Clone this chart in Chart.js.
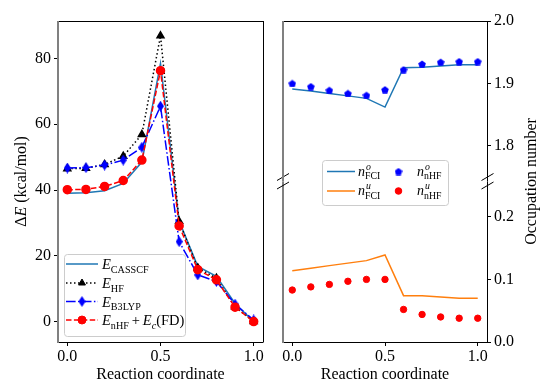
<!DOCTYPE html>
<html>
<head>
<meta charset="utf-8">
<script src="https://cdn.jsdelivr.net/npm/chart.js@4/dist/chart.umd.min.js"></script>
<style>
  html, body { margin: 0; padding: 0; background: #fff; }
  #wrap { position: relative; width: 541px; height: 382px; }
  canvas { position: absolute; top: 0; }
</style>
</head>
<body>
<div id="wrap">
  <canvas id="left" width="270" height="382" style="left:0"></canvas>
  <canvas id="rbot" width="271" height="382" style="left:270px"></canvas>
  <canvas id="rtop" width="271" height="382" style="left:270px"></canvas>
</div>
<script>
// reaction coordinate
const xs = [0, 0.1, 0.2, 0.3, 0.4, 0.5, 0.6, 0.7, 0.8, 0.9, 1.0];

// left panel: energies in kcal/mol
const eCasscf = [39.0, 39.2, 39.8, 42.0, 48.5, 78.5, 30.6, 16.8, 13.8, 5.5, 0.0];
const eHf     = [46.5, 46.6, 47.8, 50.3, 56.9, 86.9, 30.5, 16.3, 13.2, 4.5, 0.0];
const eB3lyp  = [46.7, 46.8, 47.6, 49.1, 53.0, 65.5, 24.3, 14.2, 12.2, 5.3, 0.5];
const eNhf    = [40.1, 40.2, 41.1, 42.9, 49.1, 76.3, 29.1, 15.8, 12.7, 4.4, 0.0];

// right panel: occupation numbers
const noFci = [1.891, 1.888, 1.884, 1.880, 1.876, 1.862, 1.925, 1.926, 1.928, 1.930, 1.930];
const noNhf = [1.900, 1.895, 1.889, 1.884, 1.881, 1.890, 1.922, 1.931, 1.934, 1.935, 1.935];
const nuFci = [0.114, 0.118, 0.122, 0.126, 0.130, 0.139, 0.074, 0.074, 0.072, 0.070, 0.070];
const nuNhf = [0.083, 0.088, 0.092, 0.097, 0.100, 0.100, 0.052, 0.044, 0.040, 0.038, 0.038];

const xTicks = [0, 0.5, 1.0];
const eTicks = [0, 20, 40, 60, 80];
const occTopTicks = [1.8, 1.9, 2.0];
const occBotTicks = [0, 0.1, 0.2];

const SERIF = '"Liberation Serif", "DejaVu Serif", serif';
const BLUE = '#1f77b4', ORANGE = '#ff7f0e';

function fnt(px, it) { return (it ? 'italic ' : '') + px + 'px ' + SERIF; }
function pts(arr) { return xs.map((x, i) => ({ x: x, y: arr[i] })); }

// small marker images that Chart.js has no built-in style for
function thinDiamond(w, h, color) {
  const c = document.createElement('canvas');
  c.width = w; c.height = h;
  const g = c.getContext('2d');
  g.fillStyle = color;
  g.beginPath();
  g.moveTo(w / 2, 0); g.lineTo(w, h / 2); g.lineTo(w / 2, h); g.lineTo(0, h / 2);
  g.closePath(); g.fill();
  return c;
}
function pentagon(s, color) {
  const c = document.createElement('canvas');
  c.width = s; c.height = s;
  const g = c.getContext('2d');
  g.fillStyle = color;
  g.beginPath();
  for (let k = 0; k < 5; k++) {
    const a = -Math.PI / 2 + k * 2 * Math.PI / 5;
    const px = s / 2 + Math.cos(a) * s / 2, py = s / 2 + 0.5 + Math.sin(a) * s / 2;
    k ? g.lineTo(px, py) : g.moveTo(px, py);
  }
  g.closePath(); g.fill();
  return c;
}
const diamondImg = thinDiamond(7, 11, '#0000ff');
const pentImg = pentagon(8, '#0000ff');

// text with italic / sub / sup runs, returns width
function rich(ctx, runs, x, y, px, measureOnly) {
  let cx = x;
  for (const r of runs) {
    if (r.stack) {
      ctx.font = fnt(px * 0.7, true);
      const w1 = ctx.measureText(r.stack[0]).width;
      ctx.font = fnt(px * 0.7, false);
      const w2 = ctx.measureText(r.stack[1]).width;
      if (!measureOnly) {
        ctx.font = fnt(px * 0.7, true);
        ctx.fillText(r.stack[0], cx + 1, y - px * 0.4);
        ctx.font = fnt(px * 0.7, false);
        ctx.fillText(r.stack[1], cx, y + px * 0.25);
      }
      cx += Math.max(w1, w2);
      continue;
    }
    const small = r.pos === 'sub' || r.pos === 'sup';
    ctx.font = fnt(small ? px * 0.7 : px, r.it);
    const dy = r.pos === 'sub' ? px * 0.25 : r.pos === 'sup' ? -px * 0.4 : 0;
    if (!measureOnly) ctx.fillText(r.t, cx, y + dy);
    cx += ctx.measureText(r.t).width;
  }
  return cx - x;
}

// matplotlib-like spines, drawn over the data
function framePlugin(sides) {
  return {
    id: 'frame',
    afterDatasetsDraw(chart) {
      const a = chart.chartArea, ctx = chart.ctx;
      const top = sides.top !== undefined ? sides.top : a.top;
      const bot = sides.bottom !== undefined ? sides.bottom : a.bottom;
      ctx.save();
      ctx.lineWidth = 1;
      ctx.strokeStyle = '#000';
      ctx.beginPath();
      if (sides.drawTop) { ctx.moveTo(a.left, a.top + 0.5); ctx.lineTo(a.right, a.top + 0.5); }
      if (sides.drawBottom) { ctx.moveTo(a.left, a.bottom + 0.5); ctx.lineTo(a.right + 0.5, a.bottom + 0.5); }
      ctx.moveTo(a.right + 0.5, top); ctx.lineTo(a.right + 0.5, bot);
      ctx.stroke();
      ctx.strokeStyle = '#808080';
      ctx.lineWidth = 2;
      ctx.beginPath();
      ctx.moveTo(a.left, top); ctx.lineTo(a.left, bot + (sides.drawBottom ? 1 : 0));
      ctx.stroke();
      if (sides.breaks) {
        ctx.strokeStyle = '#000';
        ctx.lineWidth = 1;
        ctx.beginPath();
        for (const bx of [a.left, a.right + 0.5]) {
          for (const by of sides.breaks) {
            ctx.moveTo(bx - 6, by + 3.5); ctx.lineTo(bx + 6, by - 3.5);
          }
        }
        ctx.stroke();
      }
      ctx.restore();
    }
  };
}

function legendBox(ctx, x, y, w, h) {
  ctx.save();
  ctx.fillStyle = 'rgba(255,255,255,0.8)';
  ctx.strokeStyle = '#cccccc';
  ctx.lineWidth = 1;
  ctx.beginPath();
  ctx.roundRect(x + 0.5, y + 0.5, w, h, 3);
  ctx.fill(); ctx.stroke();
  ctx.restore();
}

function sampleLine(ctx, x0, x1, y, color, dash) {
  ctx.save();
  ctx.strokeStyle = color;
  ctx.lineWidth = 1.5;
  ctx.setLineDash(dash);
  ctx.beginPath(); ctx.moveTo(x0, y); ctx.lineTo(x1, y); ctx.stroke();
  ctx.restore();
}

function marker(ctx, style, r, color, x, y) {
  ctx.save();
  ctx.fillStyle = color; ctx.strokeStyle = color;
  Chart.helpers.drawPoint(ctx, { pointStyle: style, radius: r, rotation: 0, borderWidth: 1 }, x, y);
  ctx.restore();
}

const DOT = [1.5, 2.5], DASH = [5.5, 2.4], DASHDOT = [9.6, 2.4, 1.5, 2.4];

const leftDeco = {
  id: 'leftDeco',
  afterDraw(chart) {
    const ctx = chart.ctx, a = chart.chartArea;
    ctx.save();
    ctx.fillStyle = '#000';
    ctx.textBaseline = 'alphabetic';
    // legend
    legendBox(ctx, 64, 254, 121, 82);
    const rows = [264, 283, 301.5, 320];
    const px = 14.5;
    sampleLine(ctx, 66, 98, rows[0], BLUE, []);
    sampleLine(ctx, 66, 98, rows[1], '#000', DOT);
    marker(ctx, 'triangle', 4, '#000', 82, rows[1]);
    sampleLine(ctx, 66, 98, rows[2], '#0000ff', DASHDOT);
    marker(ctx, diamondImg, 5, '#0000ff', 82, rows[2]);
    sampleLine(ctx, 66, 98, rows[3], '#ff0000', DASH);
    marker(ctx, 'circle', 4, '#ff0000', 82, rows[3]);
    ctx.fillStyle = '#000';
    const labels = [
      [{ t: 'E', it: true }, { t: 'CASSCF', pos: 'sub' }],
      [{ t: 'E', it: true }, { t: 'HF', pos: 'sub' }],
      [{ t: 'E', it: true }, { t: 'B3LYP', pos: 'sub' }],
      [{ t: 'E', it: true }, { t: 'nHF', pos: 'sub' }, { t: '\u2009+\u2009' }, { t: 'E', it: true }, { t: 'c', it: true, pos: 'sub' }, { t: '(FD)' }]
    ];
    labels.forEach((l, i) => rich(ctx, l, 102, rows[i] + 5, px));
    // axis titles
    ctx.font = fnt(16, false);
    ctx.textAlign = 'center';
    ctx.fillText('Reaction coordinate', (a.left + a.right) / 2, 379);
    ctx.textAlign = 'left';
    const yt = [{ t: '\u0394' }, { t: 'E', it: true }, { t: ' (kcal/mol)' }];
    const w = rich(ctx, yt, 0, 0, 16, true);
    ctx.translate(26, (a.top + a.bottom) / 2);
    ctx.rotate(-Math.PI / 2);
    rich(ctx, yt, -w / 2, 0, 16);
    ctx.restore();
  }
};

const rightDeco = {
  id: 'rightDeco',
  afterDraw(chart) {
    const ctx = chart.ctx, a = chart.chartArea;
    ctx.save();
    ctx.fillStyle = '#000';
    ctx.textBaseline = 'alphabetic';
    const ox = 270;
    legendBox(ctx, 322 - ox, 160, 126, 45);
    const r1 = 171.5, r2 = 191;
    sampleLine(ctx, 327 - ox, 355 - ox, r1, BLUE, []);
    sampleLine(ctx, 327 - ox, 355 - ox, r2, ORANGE, []);
    marker(ctx, pentImg, 4, '#0000ff', 398.5 - ox, r1);
    marker(ctx, 'circle', 3.3, '#ff0000', 398.5 - ox, r2);
    ctx.fillStyle = '#000';
    const px = 14;
    rich(ctx, [{ t: 'n', it: true }, { stack: ['o', 'FCI'] }], 358 - ox, r1 + 4, px);
    rich(ctx, [{ t: 'n', it: true }, { stack: ['u', 'FCI'] }], 358 - ox, r2 + 4, px);
    rich(ctx, [{ t: 'n', it: true }, { stack: ['o', 'nHF'] }], 417 - ox, r1 + 4, px);
    rich(ctx, [{ t: 'n', it: true }, { stack: ['u', 'nHF'] }], 417 - ox, r2 + 4, px);
    ctx.font = fnt(16, false);
    ctx.textAlign = 'center';
    ctx.fillText('Reaction coordinate', (a.left + a.right) / 2, 379);
    ctx.translate(265.5, 181.5);
    ctx.rotate(-Math.PI / 2);
    ctx.fillText('Occupation number', 0, 0);
    ctx.restore();
  }
};

function xScale(show, fitH) {
  return {
    type: 'linear', display: show, min: -0.05, max: 1.05,
    afterBuildTicks: s => { s.ticks = xTicks.map(v => ({ value: v })); },
    ticks: { callback: v => v.toFixed(1), color: '#000', font: { family: SERIF, size: 16 }, padding: 1, autoSkip: false, maxRotation: 0 },
    grid: { drawOnChartArea: false, tickLength: 4, tickColor: '#000', lineWidth: 1 },
    border: { display: false },
    afterFit: s => { s.height = fitH; s.paddingLeft = 0; s.paddingRight = 0; }
  };
}
function yScale(pos, min, max, ticks, digits, fitW) {
  return {
    type: 'linear', position: pos, min: min, max: max,
    afterBuildTicks: s => { s.ticks = ticks.map(v => ({ value: v })); },
    ticks: { callback: v => v.toFixed(digits), color: '#000', font: { family: SERIF, size: 16 }, padding: 3, autoSkip: false },
    grid: { drawOnChartArea: false, tickLength: 4, tickColor: '#000', lineWidth: 1 },
    border: { display: false },
    afterFit: s => { s.width = fitW; s.paddingTop = 0; s.paddingBottom = 0; }
  };
}
const base = {
  responsive: false, animation: false, devicePixelRatio: 1,
  plugins: { legend: { display: false }, tooltip: { enabled: false } }
};

new Chart(document.getElementById('left'), {
  type: 'line',
  data: {
    datasets: [
      { data: pts(eCasscf), borderColor: BLUE, borderWidth: 1.5, pointRadius: 0, order: 3 },
      { data: pts(eHf), borderColor: '#000', borderWidth: 1.5, borderDash: DOT, pointStyle: 'triangle', pointRadius: 4,
        pointBackgroundColor: '#000', pointBorderColor: '#000', order: 2 },
      { data: pts(eB3lyp), borderColor: '#0000ff', borderWidth: 1.5, borderDash: DASHDOT, pointStyle: diamondImg, pointRadius: 5, order: 1 },
      { data: pts(eNhf), borderColor: '#ff0000', borderWidth: 1.5, borderDash: DASH, pointStyle: 'circle', pointRadius: 4,
        pointBackgroundColor: '#ff0000', pointBorderColor: '#ff0000', order: 0 }
    ]
  },
  options: Object.assign({}, base, {
    layout: { padding: { left: 0, top: 21, right: 7, bottom: 0 } },
    scales: { x: xScale(true, 40), y: yScale('left', -6.2, 91.4, eTicks, 0, 58) }
  }),
  plugins: [framePlugin({ drawTop: true, drawBottom: true }), leftDeco]
});

new Chart(document.getElementById('rtop'), {
  type: 'line',
  data: {
    datasets: [
      { data: pts(noFci), borderColor: BLUE, borderWidth: 1.5, pointRadius: 0, order: 1 },
      { data: pts(noNhf), showLine: false, pointStyle: pentImg, pointRadius: 4, order: 0 }
    ]
  },
  options: Object.assign({}, base, {
    layout: { padding: { left: 13, top: 21, right: 0, bottom: 205 } },
    scales: { x: xScale(false, 0), y: yScale('right', 1.75, 2.0, occTopTicks, 1, 54) }
  }),
  plugins: [framePlugin({ drawTop: true, bottom: 181.5 })]
});

new Chart(document.getElementById('rbot'), {
  type: 'line',
  data: {
    datasets: [
      { data: pts(nuFci), borderColor: ORANGE, borderWidth: 1.5, pointRadius: 0, order: 1 },
      { data: pts(nuNhf), showLine: false, pointStyle: 'circle', pointRadius: 3.2,
        pointBackgroundColor: '#ff0000', pointBorderColor: '#ff0000', order: 0 }
    ]
  },
  options: Object.assign({}, base, {
    layout: { padding: { left: 13, top: 185.5, right: 0, bottom: 0 } },
    scales: { x: xScale(true, 40), y: yScale('right', 0, 0.25, occBotTicks, 1, 54) }
  }),
  plugins: [framePlugin({ drawBottom: true, top: 181.5, breaks: [177, 185.5] }), rightDeco]
});
</script>
</body>
</html>
